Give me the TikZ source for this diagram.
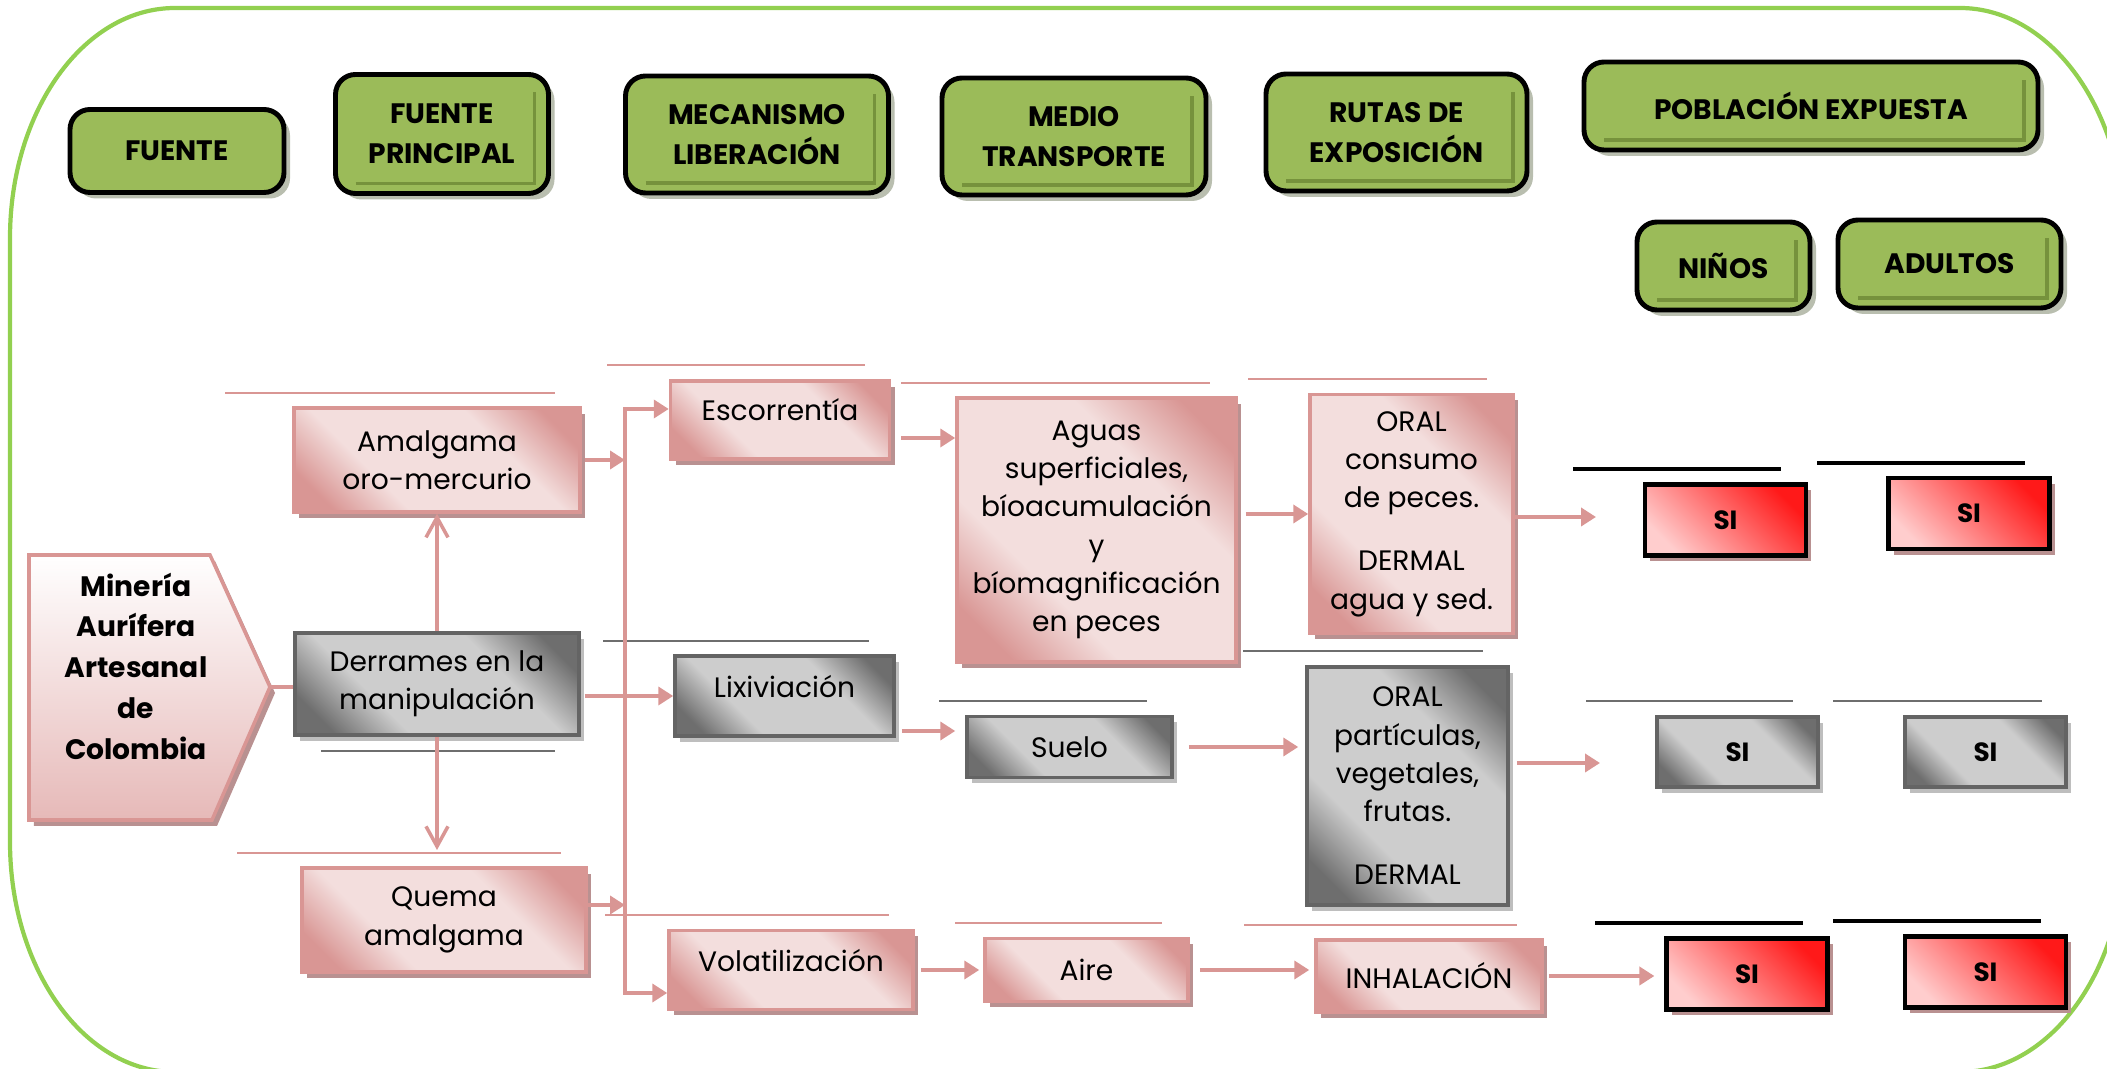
\documentclass[tikz,border=0pt]{standalone}
\usepackage{fontspec}
\setmainfont{Poppins}
\usetikzlibrary{arrows.meta,positioning,calc,shadows}
\definecolor{verdeMarco}{RGB}{146,208,80}
\definecolor{verdeCaja}{RGB}{155,187,89}
\definecolor{verdeOscuro}{RGB}{118,146,60}
\definecolor{sombraVerde}{RGB}{185,190,175}
\definecolor{rosaBorde}{RGB}{217,150,148}
\definecolor{rosaClaro}{RGB}{243,222,221}
\definecolor{rosaMedio}{RGB}{230,185,184}
\definecolor{rosaSombra}{RGB}{185,145,145}
\definecolor{grisOscuro}{RGB}{110,110,110}
\definecolor{grisClaro}{RGB}{205,205,205}
\definecolor{grisBorde}{RGB}{100,100,100}
\definecolor{grisSombra}{RGB}{190,190,190}
\definecolor{grisLinea}{RGB}{110,110,110}
\definecolor{rojoFuerte}{RGB}{255,25,25}
\definecolor{rojoClaro}{RGB}{255,205,205}
\pgfdeclareverticalshading{rosado}{100bp}{color(0bp)=(rosaBorde); color(22bp)=(rosaBorde);
  color(36bp)=(rosaClaro); color(64bp)=(rosaClaro); color(78bp)=(rosaBorde); color(100bp)=(rosaBorde)}
\pgfdeclareverticalshading{grisado}{100bp}{color(0bp)=(grisOscuro); color(22bp)=(grisOscuro);
  color(36bp)=(grisClaro); color(64bp)=(grisClaro); color(78bp)=(grisOscuro); color(100bp)=(grisOscuro)}
\tikzset{
  marco/.style={draw=verdeMarco, line width=1.2pt},
  encabezado/.style={rectangle, draw=black, line width=1.4pt, fill=verdeCaja,
                     rounded corners=2mm, align=center,
                     font=\fontsize{8}{11.4}\selectfont\bfseries,
                     drop shadow={shadow xshift=0.6mm, shadow yshift=-0.6mm,
                                  fill=sombraVerde, opacity=1}},
  bisel/.style={path picture={\draw[verdeOscuro, line width=1pt, sharp corners]
      ([xshift=2mm,yshift=1mm]path picture bounding box.south west)
      -- ([xshift=-1.4mm,yshift=1mm]path picture bounding box.south east)
      -- ([xshift=-1.4mm,yshift=-1.8mm]path picture bounding box.north east);}},
  cajaRosa/.style={rectangle, draw=rosaBorde, line width=1pt,
                   shade, shading=rosado, shading angle=-45, align=center, inner sep=2pt,
                   font=\fontsize{8}{10.9}\selectfont,
                   drop shadow={shadow xshift=0.5mm, shadow yshift=-0.6mm,
                                fill=rosaSombra, opacity=1}},
  cajaGris/.style={rectangle, draw=grisBorde, line width=1pt,
                   shade, shading=grisado, shading angle=-45, align=center, inner sep=2pt,
                   font=\fontsize{8}{10.9}\selectfont,
                   drop shadow={shadow xshift=0.5mm, shadow yshift=-0.6mm,
                                fill=grisSombra, opacity=1}},
  arriba/.style={text depth=0.2cm},
  siRojo/.style={rectangle, draw=black, line width=1.2pt,
                 top color=rojoFuerte, bottom color=rojoClaro, shading angle=-45,
                 minimum width=1.61cm, minimum height=0.71cm,
                 font=\fontsize{7.5}{9}\selectfont\bfseries,
                 drop shadow={shadow xshift=0.5mm, shadow yshift=-0.6mm,
                              fill=rosaSombra, opacity=1}},
  siGris/.style={cajaGris, minimum width=1.61cm, minimum height=0.70cm,
                 font=\fontsize{7.5}{9}\selectfont\bfseries},
  pentagono/.style={draw=rosaBorde, line width=1pt, top color=white, bottom color=rosaMedio,
                    drop shadow={shadow xshift=0.5mm, shadow yshift=-0.6mm,
                                 fill=rosaSombra, opacity=1}},
  seta/.style={-{Triangle[length=1.5mm,width=1.8mm]}, line width=1.2pt, rosaBorde},
  setaAbierta/.style={-{Straight Barb[length=2mm,width=2.2mm]}, line width=1pt, rosaBorde},
  conector/.style={line width=1.2pt, rosaBorde},
  lineaRosa/.style={line width=0.8pt, rosaBorde},
  lineaGris/.style={line width=0.8pt, grisLinea},
  lineaNegra/.style={line width=0.9pt, black},
}
\begin{document}
\begin{tikzpicture}
  \useasboundingbox (0,0) rectangle (21.07,-10.69);
  % marco verde
  \draw[marco] (0.10,-2.38) arc[start angle=180, end angle=90, x radius=1.65, y radius=2.3]
    -- (19.60,-0.08) arc[start angle=90, end angle=0, x radius=1.65, y radius=2.3]
    -- (21.25,-8.42) arc[start angle=0, end angle=-90, x radius=1.65, y radius=2.3]
    -- (1.75,-10.72) arc[start angle=270, end angle=180, x radius=1.65, y radius=2.3]
    -- cycle;

  % encabezados
  \node[encabezado, minimum width=2.14cm, minimum height=0.83cm] (fuente) at (1.77,-1.51) {FUENTE};
  \node[encabezado, bisel, minimum width=2.13cm, minimum height=1.19cm] (fprincipal) at (4.42,-1.34) {FUENTE\\PRINCIPAL};
  \node[encabezado, bisel, minimum width=2.63cm, minimum height=1.17cm] (mecanismo) at (7.57,-1.345) {MECANISMO\\LIBERACIÓN};
  \node[encabezado, bisel, minimum width=2.64cm, minimum height=1.17cm] (medio) at (10.74,-1.365) {MEDIO\\TRANSPORTE};
  \node[encabezado, bisel, minimum width=2.61cm, minimum height=1.17cm] (rutas) at (13.965,-1.325) {RUTAS DE\\EXPOSICIÓN};
  \node[encabezado, bisel, minimum width=4.54cm, minimum height=0.88cm] (poblacion) at (18.11,-1.06) {POBLACIÓN EXPUESTA};
  \node[encabezado, bisel, minimum width=1.73cm, minimum height=0.88cm] (ninos) at (17.235,-2.66) {NIÑOS};
  \node[encabezado, bisel, minimum width=2.23cm, minimum height=0.88cm] (adultos) at (19.495,-2.64) {ADULTOS};

  % lineas de titulo
  \draw[lineaRosa] (2.25,-3.93) -- (5.55,-3.93);
  \draw[lineaRosa] (6.07,-3.65) -- (8.65,-3.65);
  \draw[lineaRosa] (2.37,-8.53) -- (5.61,-8.53);
  \draw[lineaRosa] (6.05,-9.15) -- (8.89,-9.15);
  \draw[lineaRosa] (9.01,-3.83) -- (12.10,-3.83);
  \draw[lineaRosa] (9.55,-9.23) -- (11.62,-9.23);
  \draw[lineaRosa] (12.48,-3.79) -- (14.87,-3.79);
  \draw[lineaRosa] (12.44,-9.25) -- (15.17,-9.25);
  \draw[lineaGris] (3.21,-7.51) -- (5.55,-7.51);
  \draw[lineaGris] (6.03,-6.41) -- (8.69,-6.41);
  \draw[lineaGris] (9.39,-7.01) -- (11.47,-7.01);
  \draw[lineaGris] (12.43,-6.51) -- (14.83,-6.51);
  \draw[lineaGris] (15.86,-7.01) -- (17.93,-7.01);
  \draw[lineaGris] (18.33,-7.01) -- (20.42,-7.01);
  \draw[lineaNegra] (15.73,-4.69) -- (17.81,-4.69);
  \draw[lineaNegra] (18.17,-4.63) -- (20.25,-4.63);
  \draw[lineaNegra] (15.95,-9.23) -- (18.03,-9.23);
  \draw[lineaNegra] (18.33,-9.21) -- (20.41,-9.21);

  % fuente
  \path[pentagono] (0.29,-5.55) -- (2.10,-5.55) -- (2.70,-6.87) -- (2.12,-8.20) -- (0.29,-8.20) -- cycle;
  \node[align=center, font=\fontsize{8}{11.6}\selectfont\bfseries] (mineria) at (1.36,-6.66)
       {Minería\\Aurífera\\Artesanal\\de\\Colombia};
  \coordinate (punta) at (2.70,-6.87);

  % fuente principal
  \node[cajaRosa, minimum width=2.86cm, minimum height=1.04cm] (amalgama) at (4.37,-4.60) {Amalgama\\oro-mercurio};
  \node[cajaGris, minimum width=2.84cm, minimum height=1.02cm] (derrames) at (4.37,-6.84) {Derrames en la\\manipulación};
  \node[cajaRosa, minimum width=2.84cm, minimum height=1.04cm] (quema) at (4.44,-9.20) {Quema\\amalgama};

  % mecanismo
  \node[cajaRosa, arriba, minimum width=2.19cm, minimum height=0.78cm] (escorrentia) at (7.80,-4.20) {Escorrentía};
  \node[cajaGris, arriba, minimum width=2.19cm, minimum height=0.80cm] (lixiviacion) at (7.845,-6.96) {Lixiviación};
  \node[cajaRosa, arriba, minimum width=2.44cm, minimum height=0.79cm] (volatilizacion) at (7.91,-9.70) {Volatilización};

  % medio
  \node[cajaRosa, minimum width=2.79cm, minimum height=2.64cm] (aguas) at (10.965,-5.30)
       {Aguas\\superficiales,\\bíoacumulación\\y\\bíomagnificación\\en peces};
  \node[cajaGris, minimum width=2.05cm, minimum height=0.61cm] (suelo) at (10.695,-7.47) {Suelo};
  \node[cajaRosa, minimum width=2.03cm, minimum height=0.63cm] (aire) at (10.865,-9.70) {Aire};

  % rutas
  \node[cajaRosa, minimum width=2.03cm, minimum height=2.39cm] (oralA) at (14.115,-5.14)
       {ORAL\\consumo\\de peces.\\[7pt]DERMAL\\agua y sed.};
  \node[cajaGris, minimum width=2.01cm, minimum height=2.38cm] (oralB) at (14.075,-7.86)
       {ORAL\\partículas,\\vegetales,\\frutas.\\[7pt]DERMAL};
  \node[cajaRosa, minimum width=2.26cm, minimum height=0.72cm] (inhalacion) at (14.29,-9.76) {INHALACIÓN};

  % poblacion
  \node[siRojo] (si1) at (17.255,-5.20) {SI};
  \node[siRojo] (si2) at (19.69,-5.135) {SI};
  \node[siGris] (si3) at (17.375,-7.52) {SI};
  \node[siGris] (si4) at (19.855,-7.52) {SI};
  \node[siRojo] (si5) at (17.47,-9.74) {SI};
  \node[siRojo] (si6) at (19.855,-9.72) {SI};

  % conectores
  \coordinate (busArriba) at (6.25,-4.09);
  \coordinate (busAbajo) at (6.25,-9.93);
  \coordinate (topeQ) at (4.37,-8.50);
  \coordinate (finA) at (15.96,-5.17);
  \coordinate (finB) at (16.00,-7.63);
  \coordinate (q0) at ($(quema.east)+(0,0.15)$);
  \coordinate (e0) at ($(escorrentia.east)+(0.10,-0.18)$);
  \coordinate (l0) at ($(lixiviacion.east)+(0.06,-0.35)$);

  \draw[conector] (punta) -- (punta -| derrames.west);
  \draw[setaAbierta] (derrames) -- (amalgama);
  \draw[setaAbierta] (derrames) -- (topeQ);
  \draw[seta, shorten <=0.03cm] (amalgama.east) -- (amalgama.east -| busArriba);
  \draw[seta] (q0) -- (q0 -| busAbajo);
  \draw[seta] (busAbajo) -- (busArriba) -- (busArriba -| escorrentia.west);
  \draw[seta, line cap=rect] (busAbajo) -- (busAbajo -| volatilizacion.west);
  \draw[seta, shorten <=0.04cm] (derrames.east |- lixiviacion.west) -- (lixiviacion.west);

  \draw[seta] (e0) -- (e0 -| aguas.west);
  \draw[seta, shorten >=0.1cm] (l0) -- (l0 -| suelo.west);
  \draw[seta, shorten <=0.06cm, shorten >=0.04cm] (volatilizacion) -- (aire);

  \draw[seta, shorten <=0.08cm] (aguas.east |- oralA) -- (oralA.west);
  \draw[seta, shorten <=0.15cm, shorten >=0.07cm] (suelo.east) -- (suelo.east -| oralB.west);
  \draw[seta, shorten <=0.1cm, shorten >=0.05cm] (aire.east) -- (aire.east -| inhalacion.west);

  \draw[seta] (oralA.east |- finA) -- (finA);
  \draw[seta, shorten <=0.07cm] (oralB.east |- finB) -- (finB);
  \draw[seta, shorten <=0.05cm, shorten >=0.1cm] (inhalacion.east) -- (inhalacion.east -| si5.west);
\end{tikzpicture}
\end{document}
